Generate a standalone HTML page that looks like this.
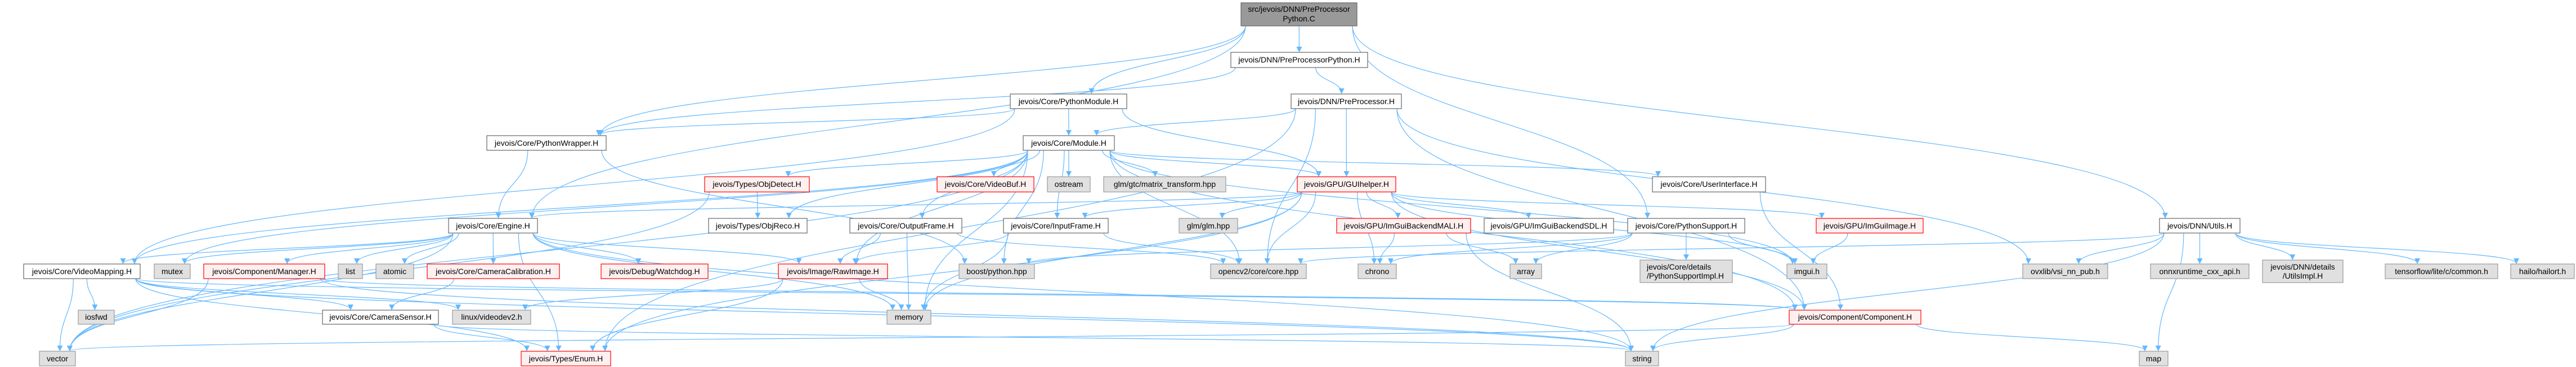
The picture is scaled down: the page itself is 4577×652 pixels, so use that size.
<!DOCTYPE html>
<html><head><meta charset="utf-8"><style>
html,body{margin:0;padding:0;background:#fff;}
svg{display:block;}
text{font-family:"Liberation Sans",sans-serif;font-size:14px;fill:#000;}
.w rect{fill:#fff;stroke:#666;stroke-width:1.2;}
.r rect{fill:#FFF0F0;stroke:#f00;stroke-width:1.2;}
.g rect{fill:#E0E0E0;stroke:#999;stroke-width:1.2;}
.m rect{fill:#999;stroke:#666;stroke-width:1.2;}
.e{fill:none;stroke:#63B8FF;stroke-width:1.2;}
</style></head><body>
<svg id="s" width="4577" height="652" viewBox="0 0 4577 652" xmlns="http://www.w3.org/2000/svg">
<defs><marker id="a" markerWidth="10" markerHeight="10" refX="9" refY="5" orient="auto" markerUnits="userSpaceOnUse"><path d="M0,0 L10,5 L0,10 z" fill="#63B8FF"/></marker></defs>
<g id="edges"></g>
<g id="nodes">
<g class="m" id="main"><rect x="2205" y="5" width="206" height="41"/><text x="2308" y="21" text-anchor="middle">src/jevois/DNN/PreProcessor</text><text x="2308" y="38" text-anchor="middle">Python.C</text></g>
<g class="w" id="ppyH"><rect x="2187" y="93" width="243" height="27"/><text x="2308.5" y="111" text-anchor="middle">jevois/DNN/PreProcessorPython.H</text></g>
<g class="w" id="pymod"><rect x="1795" y="167" width="207" height="26"/><text x="1898.5" y="185" text-anchor="middle">jevois/Core/PythonModule.H</text></g>
<g class="w" id="pp"><rect x="2294" y="167" width="196" height="26"/><text x="2392" y="185" text-anchor="middle">jevois/DNN/PreProcessor.H</text></g>
<g class="w" id="pyw"><rect x="865" y="241" width="212" height="26"/><text x="971" y="259" text-anchor="middle">jevois/Core/PythonWrapper.H</text></g>
<g class="w" id="mod"><rect x="1818" y="241" width="162" height="26"/><text x="1899" y="259" text-anchor="middle">jevois/Core/Module.H</text></g>
<g class="r" id="objd"><rect x="1252" y="314" width="186" height="27"/><text x="1345" y="332" text-anchor="middle">jevois/Types/ObjDetect.H</text></g>
<g class="r" id="vbuf"><rect x="1665" y="314" width="172" height="27"/><text x="1751" y="332" text-anchor="middle">jevois/Core/VideoBuf.H</text></g>
<g class="g" id="ostream"><rect x="1861" y="314" width="76" height="27"/><text x="1899" y="332" text-anchor="middle">ostream</text></g>
<g class="g" id="glmgtc"><rect x="1961" y="314" width="217" height="27"/><text x="2069.5" y="332" text-anchor="middle">glm/gtc/matrix_transform.hpp</text></g>
<g class="r" id="gui"><rect x="2305" y="314" width="175" height="27"/><text x="2392.5" y="332" text-anchor="middle">jevois/GPU/GUIhelper.H</text></g>
<g class="w" id="ui"><rect x="2936" y="314" width="201" height="27"/><text x="3036.5" y="332" text-anchor="middle">jevois/Core/UserInterface.H</text></g>
<g class="w" id="engine"><rect x="797" y="388" width="158" height="26"/><text x="876" y="406" text-anchor="middle">jevois/Core/Engine.H</text></g>
<g class="w" id="objr"><rect x="1259" y="388" width="175" height="26"/><text x="1346.5" y="406" text-anchor="middle">jevois/Types/ObjReco.H</text></g>
<g class="w" id="outf"><rect x="1510" y="388" width="199" height="26"/><text x="1609.5" y="406" text-anchor="middle">jevois/Core/OutputFrame.H</text></g>
<g class="w" id="inf"><rect x="1783" y="388" width="186" height="26"/><text x="1876" y="406" text-anchor="middle">jevois/Core/InputFrame.H</text></g>
<g class="g" id="glm"><rect x="2095" y="388" width="104" height="26"/><text x="2147" y="406" text-anchor="middle">glm/glm.hpp</text></g>
<g class="r" id="mali"><rect x="2375" y="388" width="238" height="26"/><text x="2494" y="406" text-anchor="middle">jevois/GPU/ImGuiBackendMALI.H</text></g>
<g class="w" id="sdl"><rect x="2637" y="388" width="230" height="26"/><text x="2752" y="406" text-anchor="middle">jevois/GPU/ImGuiBackendSDL.H</text></g>
<g class="w" id="pys"><rect x="2892" y="388" width="208" height="26"/><text x="2996" y="406" text-anchor="middle">jevois/Core/PythonSupport.H</text></g>
<g class="r" id="imgimg"><rect x="3227" y="388" width="190" height="26"/><text x="3322" y="406" text-anchor="middle">jevois/GPU/ImGuiImage.H</text></g>
<g class="w" id="utils"><rect x="3837" y="388" width="143" height="26"/><text x="3908.5" y="406" text-anchor="middle">jevois/DNN/Utils.H</text></g>
<g class="w" id="vm"><rect x="42" y="469" width="207" height="26"/><text x="145.5" y="487" text-anchor="middle">jevois/Core/VideoMapping.H</text></g>
<g class="g" id="mutex"><rect x="274" y="469" width="64" height="26"/><text x="306" y="487" text-anchor="middle">mutex</text></g>
<g class="r" id="mgr"><rect x="362" y="469" width="215" height="26"/><text x="469.5" y="487" text-anchor="middle">jevois/Component/Manager.H</text></g>
<g class="g" id="list"><rect x="601" y="469" width="43" height="26"/><text x="622.5" y="487" text-anchor="middle">list</text></g>
<g class="g" id="atomic"><rect x="668" y="469" width="67" height="26"/><text x="701.5" y="487" text-anchor="middle">atomic</text></g>
<g class="r" id="calib"><rect x="759" y="469" width="235" height="26"/><text x="876.5" y="487" text-anchor="middle">jevois/Core/CameraCalibration.H</text></g>
<g class="r" id="wd"><rect x="1068" y="469" width="190" height="26"/><text x="1163" y="487" text-anchor="middle">jevois/Debug/Watchdog.H</text></g>
<g class="r" id="raw"><rect x="1383" y="469" width="194" height="26"/><text x="1480" y="487" text-anchor="middle">jevois/Image/RawImage.H</text></g>
<g class="g" id="boost"><rect x="1704" y="469" width="134" height="26"/><text x="1771" y="487" text-anchor="middle">boost/python.hpp</text></g>
<g class="g" id="cv"><rect x="2151" y="469" width="170" height="26"/><text x="2236" y="487" text-anchor="middle">opencv2/core/core.hpp</text></g>
<g class="g" id="chrono"><rect x="2413" y="469" width="68" height="26"/><text x="2447" y="487" text-anchor="middle">chrono</text></g>
<g class="g" id="array"><rect x="2683" y="469" width="56" height="26"/><text x="2711" y="487" text-anchor="middle">array</text></g>
<g class="g" id="pysi"><rect x="2914" y="462" width="164" height="40"/><text x="2926" y="479">jevois/Core/details</text><text x="2926" y="495">/PythonSupportImpl.H</text></g>
<g class="g" id="imgui"><rect x="3175" y="469" width="71" height="26"/><text x="3210.5" y="487" text-anchor="middle">imgui.h</text></g>
<g class="g" id="ovx"><rect x="3594" y="469" width="151" height="26"/><text x="3669.5" y="487" text-anchor="middle">ovxlib/vsi_nn_pub.h</text></g>
<g class="g" id="onnx"><rect x="3821" y="469" width="175" height="26"/><text x="3908.5" y="487" text-anchor="middle">onnxruntime_cxx_api.h</text></g>
<g class="g" id="utilsi"><rect x="4020" y="462" width="143" height="40"/><text x="4091.5" y="479" text-anchor="middle">jevois/DNN/details</text><text x="4091.5" y="495" text-anchor="middle">/UtilsImpl.H</text></g>
<g class="g" id="tf"><rect x="4238" y="469" width="200" height="26"/><text x="4338" y="487" text-anchor="middle">tensorflow/lite/c/common.h</text></g>
<g class="g" id="hailo"><rect x="4461" y="469" width="113" height="26"/><text x="4517.5" y="487" text-anchor="middle">hailo/hailort.h</text></g>
<g class="g" id="iosfwd"><rect x="139" y="551" width="64" height="25"/><text x="171" y="568" text-anchor="middle">iosfwd</text></g>
<g class="w" id="camsens"><rect x="573" y="551" width="206" height="25"/><text x="676" y="568" text-anchor="middle">jevois/Core/CameraSensor.H</text></g>
<g class="g" id="v4l"><rect x="804" y="551" width="139" height="25"/><text x="873.5" y="568" text-anchor="middle">linux/videodev2.h</text></g>
<g class="g" id="memory"><rect x="1576" y="551" width="78" height="25"/><text x="1615" y="568" text-anchor="middle">memory</text></g>
<g class="r" id="comp"><rect x="3179" y="551" width="234" height="25"/><text x="3296" y="568" text-anchor="middle">jevois/Component/Component.H</text></g>
<g class="g" id="vector"><rect x="70" y="624" width="64" height="26"/><text x="102" y="642" text-anchor="middle">vector</text></g>
<g class="r" id="enum"><rect x="926" y="624" width="159" height="26"/><text x="1005.5" y="642" text-anchor="middle">jevois/Types/Enum.H</text></g>
<g class="g" id="string"><rect x="2888" y="624" width="59" height="26"/><text x="2917.5" y="642" text-anchor="middle">string</text></g>
<g class="g" id="map"><rect x="3801" y="624" width="51" height="26"/><text x="3826.5" y="642" text-anchor="middle">map</text></g>
</g>
</svg>
<script>
(function(){
var E=[
["main","ppyH"],["main","pymod"],["main","engine"],["main","pyw"],["main","pys"],["main","utils"],
["ppyH","pp"],["ppyH","pyw"],
["pymod","mod"],["pymod","gui"],["pymod","pyw"],["pymod","vm"],
["pp","mod"],["pp","gui"],["pp","comp"],["pp","ovx"],["pp","enum"],["pp","cv"],
["mod","vbuf"],["mod","ostream"],["mod","glmgtc"],["mod","gui"],["mod","inf"],["mod","outf"],["mod","raw"],["mod","ui"],["mod","comp"],["mod","boost"],["mod","cv"],["mod","memory"],["mod","objd"],["mod","objr"],["mod","vm"],["mod","mutex"],["mod","vector"],["mod","imgui"],
["gui","mali"],["gui","sdl"],["gui","glm"],["gui","cv"],["gui","chrono"],["gui","inf"],["gui","imgimg"],["gui","imgui"],["gui","comp"],["gui","engine"],["gui","memory"],["gui","enum"],
["pyw","engine"],["pyw","boost"],
["objd","objr"],["objd","vector"],
["engine","vm"],["engine","mutex"],["engine","mgr"],["engine","list"],["engine","atomic"],["engine","calib"],["engine","wd"],["engine","raw"],["engine","enum"],["engine","memory"],["engine","vector"],["engine","string"],
["vm","vector"],["vm","iosfwd"],["vm","camsens"],["vm","v4l"],["vm","enum"],["vm","string"],["vm","comp"],
["mgr","vector"],["mgr","comp"],["mgr","string"],
["camsens","enum"],["camsens","string"],
["calib","camsens"],
["inf","raw"],["inf","cv"],["inf","memory"],
["outf","raw"],["outf","cv"],["outf","memory"],
["raw","memory"],["raw","v4l"],["raw","enum"],
["mali","chrono"],["mali","array"],["mali","string"],
["pys","array"],["pys","pysi"],["pys","imgui"],["pys","boost"],["pys","chrono"],
["imgimg","imgui"],
["ui","comp"],
["utils","ovx"],["utils","onnx"],["utils","utilsi"],["utils","tf"],["utils","hailo"],["utils","map"],["utils","cv"],["utils","string"],
["comp","map"],["comp","string"],["comp","vector"]
];
function box(id){var r=document.querySelector('#'+id+' rect');var x=+r.getAttribute('x'),y=+r.getAttribute('y'),w=+r.getAttribute('width'),h=+r.getAttribute('height');return{x1:x,x2:x+w,y1:y,y2:y+h,cx:x+w/2};}
var g=document.getElementById('edges'),ns='http://www.w3.org/2000/svg';
E.forEach(function(e){
 var s=box(e[0]),t=box(e[1]);
 var sx=s.cx+(t.cx-s.cx)*0.35; sx=Math.max(s.x1+8,Math.min(s.x2-8,sx));
 var tx=t.cx+(s.cx-t.cx)*0.1; tx=Math.max(t.x1+10,Math.min(t.x2-10,tx));
 var sy=s.y2, ty=t.y1-1;
 var dy=ty-sy;
 var d='M'+sx+','+sy+' C'+sx+','+(sy+dy*0.5)+' '+tx+','+(ty-dy*0.5)+' '+tx+','+ty;
 var p=document.createElementNS(ns,'path');p.setAttribute('d',d);p.setAttribute('class','e');p.setAttribute('marker-end','url(#a)');g.appendChild(p);
});
})();
</script>
</body></html>
